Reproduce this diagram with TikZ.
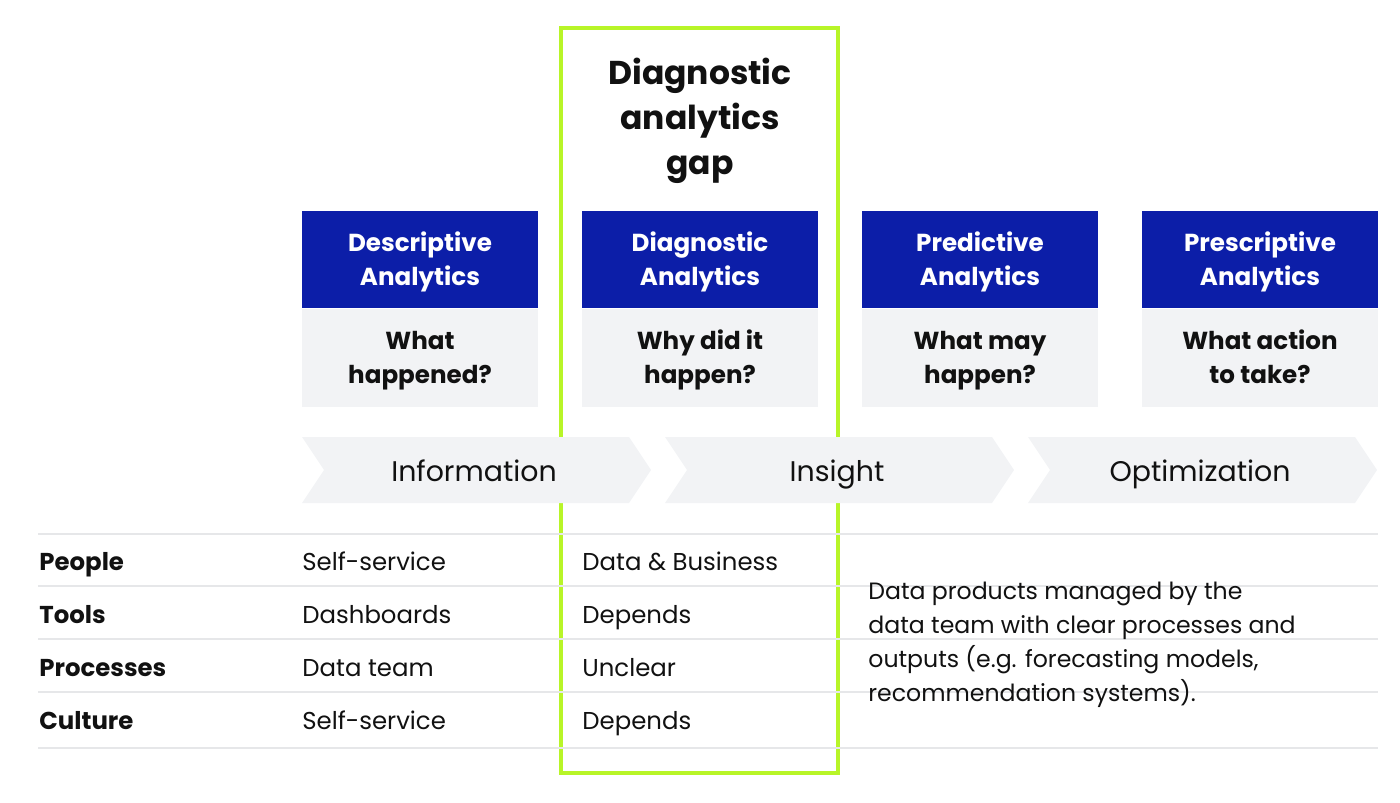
\documentclass[tikz,border=0pt]{standalone}
\usepackage{fontspec}
\setmainfont{Poppins}
\usetikzlibrary{positioning,calc}
\definecolor{anablue}{RGB}{12,30,168}
\definecolor{qgrey}{RGB}{242,243,245}
\definecolor{gapgreen}{RGB}{184,245,40}
\definecolor{rulegrey}{RGB}{230,231,233}
\definecolor{inkblack}{RGB}{17,17,17}
\newcommand{\topstrut}{\rule{0pt}{14pt}}
\newcommand{\botstrut}{\rule[-5pt]{0pt}{5pt}}
\newcommand{\titletop}{\rule{0pt}{18pt}}
\newcommand{\titlebot}{\rule[-6pt]{0pt}{6pt}}

\tikzset{
  headbox/.style={fill=anablue, text=white, font=\fontsize{12.3}{17}\selectfont\bfseries,
    minimum width=118pt, minimum height=48.5pt, align=center, inner sep=0pt,
    execute at end node=\botstrut},
  qbox/.style={fill=qgrey, text=inkblack, font=\fontsize{12.3}{17}\selectfont\bfseries,
    minimum width=118pt, minimum height=49pt, align=center, inner sep=0pt,
    execute at end node=\botstrut},
  chevtext/.style={font=\fontsize{14.2}{17}\selectfont, text=inkblack, inner sep=0pt, anchor=base},
  rowhead/.style={font=\fontsize{12.2}{16}\selectfont\bfseries, text=inkblack, anchor=base west, inner sep=0pt},
  cell/.style={font=\fontsize{12.2}{16}\selectfont, text=inkblack, anchor=base west, inner sep=0pt},
  tabrule/.style={draw=rulegrey, line width=0.8pt}
}

\begin{document}
\begin{tikzpicture}[x=0.5pt, y=-0.5pt]
\useasboundingbox (0,0) rectangle (1400,802);

% Gap frame
\draw[gapgreen, line width=2pt] (561,28) rectangle (838,773);
\node[font=\fontsize{16.5}{22.5}\selectfont\bfseries, text=inkblack, align=center, inner sep=0pt,
  execute at end node=\titlebot]
  (gaptitle) at (700,118) {\titletop Diagnostic\\analytics\\gap};

% Analytics types
\foreach \i/\name/\head/\quest in {
    0/desc/Descriptive\\Analytics/What\\happened?,
    1/diag/Diagnostic\\Analytics/Why did it\\happen?,
    2/pred/Predictive\\Analytics/What may\\happen?,
    3/presc/Prescriptive\\Analytics/What action\\to take?} {
  \node[headbox] (\name) at (420+280*\i,259.5) {\topstrut\head};
  \node[qbox, below=0pt of \name] (\name q) {\topstrut\quest};
}

% Chevrons
\foreach \i/\name/\lbl in {0/info/Information, 1/insight/Insight, 2/optim/Optimization} {
  \pgfmathsetmacro{\xl}{302+363*\i}
  \fill[qgrey] (\xl,437) -- (\xl+327,437) -- (\xl+349,470) -- (\xl+327,503)
    -- (\xl,503) -- (\xl+22,470) -- cycle;
  \node[chevtext] (\name) at (\xl+172,481) {\lbl};
}

% Table
\foreach \y in {534,586,639,692,748} {
  \draw[tabrule] (38,\y) -- (1378,\y);
}
\foreach \y/\name/\head/\sone/\stwo in {
    570/people/People/Self-service/Data \& Business,
    623/tools/Tools/Dashboards/Depends,
    676/proc/Processes/Data team/Unclear,
    729/cult/Culture/Self-service/Depends} {
  \node[rowhead] (\name) at (39,\y) {\head};
  \node[cell] (\name a) at (302,\y) {\sone};
  \node[cell] (\name b) at (582,\y) {\stwo};
}
\node[align=left, anchor=west, inner sep=0pt, text=inkblack, font=\fontsize{11.8}{17}\selectfont,
  execute at end node=\botstrut] (products) at (868,641)
  {\topstrut Data products managed by the\\data team with clear processes and\\outputs (e.g. forecasting models,\\recommendation systems).};
\end{tikzpicture}
\end{document}
